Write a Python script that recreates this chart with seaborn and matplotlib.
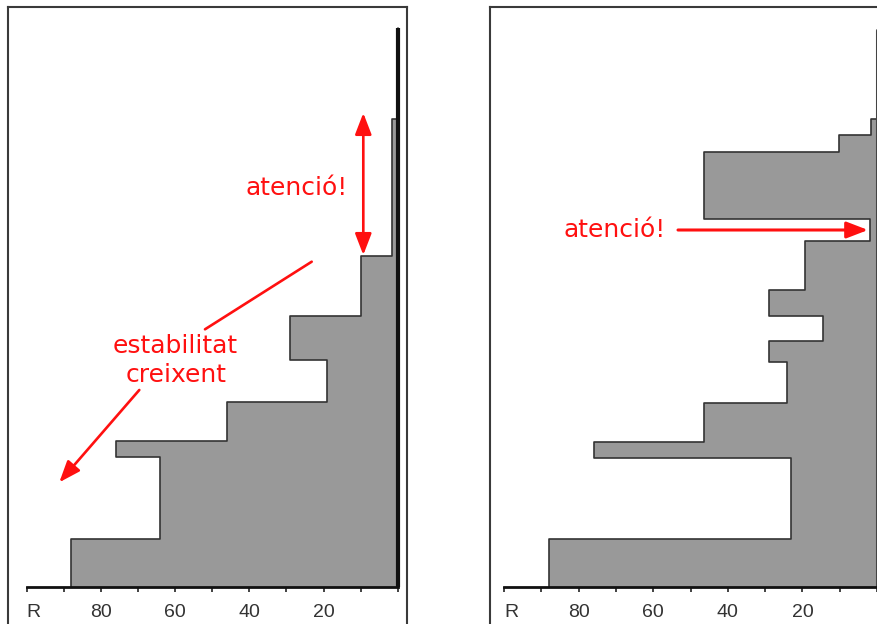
import numpy as np
import pandas as pd
import matplotlib
matplotlib.use("Agg")
import matplotlib.pyplot as plt
import seaborn as sns
from matplotlib.patches import FancyArrowPatch

# ---------------- data ----------------
left_bounds = [0, 48, 130, 146, 185, 227, 271, 331, 468, 559]
left_R = [88, 64, 76, 46, 19, 29, 10, 1.5, 0]

right_bounds = [0, 48, 129, 145, 184, 225, 246, 271, 297, 346, 368, 435, 452, 468, 557]
right_R = [88, 23, 76, 46.5, 24, 29, 14.5, 29, 19.3, 1.8, 46.5, 10.3, 1.6, 0]

tick_values = [100, 90, 80, 70, 60, 50, 40, 30, 20, 10, 0]
tick_labels = ["R", "", "80", "", "60", "", "40", "", "20", "", ""]

# ---------------- style ----------------
W, H = 877, 624
sns.set_theme(style="white")
plt.rcParams['font.family'] = ['DejaVu Sans']

fig = plt.figure(figsize=(W / 100, H / 100), dpi=100)
fig.patch.set_facecolor('white')


def frac_rect(x0, y0, x1, y1):
    return [x0 / W, 1 - y1 / H, (x1 - x0) / W, (y1 - y0) / H]


def P(x, y):
    return (x / W, 1 - y / H)


# outer frames
for (fx0, fx1) in [(8, 407.5), (490, 920)]:
    fa = fig.add_axes(frac_rect(fx0, 7, fx1, 660))
    fa.set_xticks([])
    fa.set_yticks([])
    fa.set_facecolor('white')
    for s in fa.spines.values():
        s.set_visible(True)
        s.set_color('#3a3a3a')
        s.set_linewidth(1.5)
    fa.set_zorder(0)


def panel(x0, x1, bounds, vals, edge_lw, edge_color):
    ax = fig.add_axes(frac_rect(x0, 587 - 560, x1, 587))
    ax.set_zorder(1)
    ax.patch.set_alpha(0)
    xs = list(vals) + [vals[-1]]
    ax.fill_betweenx(bounds, xs, 0, step='post', color='#999999', lw=0, zorder=1)
    sns.lineplot(x=xs, y=bounds, orient='y', sort=False, estimator=None,
                 drawstyle='steps-pre', color='#333333', lw=1.2, ax=ax,
                 zorder=2, clip_on=False)
    ax.vlines(0, bounds[0], bounds[-1], color=edge_color, lw=edge_lw,
              zorder=3, clip_on=False)
    ax.set_xlim(100, 0)
    ax.set_ylim(0, 560)
    ax.set_xlabel('')
    ax.set_ylabel('')
    for k in ['left', 'right', 'top']:
        ax.spines[k].set_visible(False)
    ax.spines['bottom'].set_visible(True)
    ax.spines['bottom'].set_color('#111111')
    ax.spines['bottom'].set_linewidth(2.0)
    ax.spines['bottom'].set_zorder(4)
    ax.set_yticks([])
    ax.set_xticks(tick_values)
    ax.set_xticklabels(tick_labels, family=['Liberation Sans', 'DejaVu Sans'])
    ax.tick_params(axis='x', bottom=True, direction='out', length=3.5, width=1.2,
                   color='#222222', pad=8.5, labelsize=14, labelcolor='#333333')
    ax.get_xticklabels()[0].set_ha('left')
    return ax


panel(26.7, 397.7, left_bounds, left_R, 3.0, '#111111')
panel(504, 877, right_bounds, right_R, 2.2, '#444444')

# ---------------- annotations ----------------
RED = '#ff1010'
FS = 18


def arrow(a, b, style, lw=1.9):
    fig.add_artist(FancyArrowPatch(P(*a), P(*b), transform=fig.transFigure,
                                   arrowstyle=style, mutation_scale=10,
                                   color=RED, lw=lw, shrinkA=0, shrinkB=0,
                                   zorder=10))


head = ",head_length=1.3,head_width=0.5"

fig.text(*P(296.5, 195), "atenció!", color=RED, fontsize=FS, ha='center', va='baseline')
arrow((363.3, 113), (363.3, 255), "<|-|>" + head)

arrow((311.7, 261.7), (205, 329.3), "-")
fig.text(*P(175, 353), "estabilitat", color=RED, fontsize=FS, ha='center', va='baseline')
fig.text(*P(176, 381.7), "creixent", color=RED, fontsize=FS, ha='center', va='baseline')
arrow((139.3, 390), (59.3, 482.3), "-|>" + head)

fig.text(*P(615, 237), "atenció!", color=RED, fontsize=FS, ha='center', va='baseline')
arrow((678, 230), (868, 230), "-|>" + head, lw=2.2)

fig.savefig("out.png", dpi=100)
